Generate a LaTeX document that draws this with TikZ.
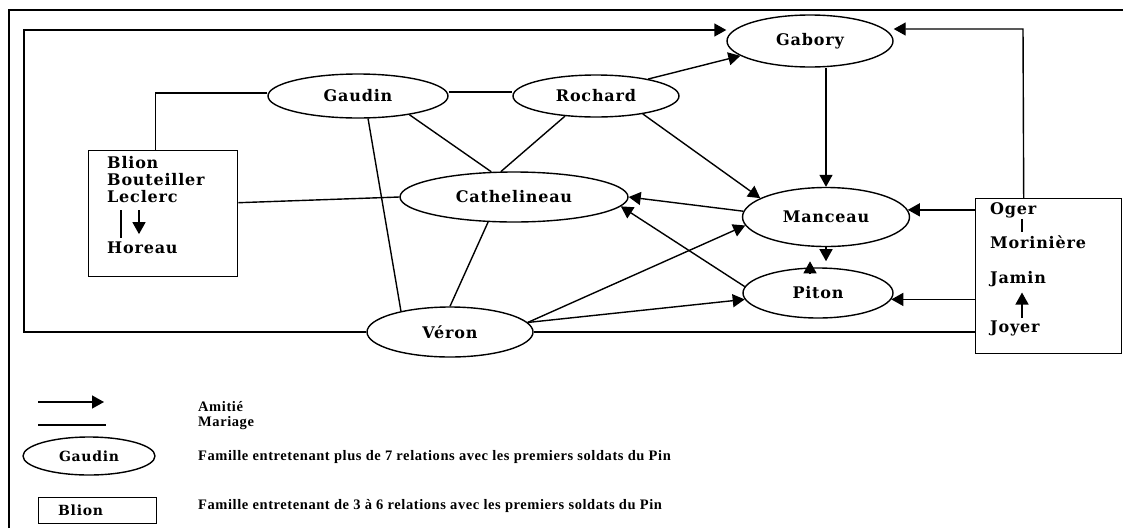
\documentclass[tikz,border=0pt]{standalone}
\usepackage{fontspec}
\setmainfont{Liberation Serif}
\newfontfamily\nodefont[LetterSpace=5]{DejaVu Serif}
\newfontfamily\legfont[LetterSpace=4]{Liberation Serif}
\usetikzlibrary{shapes.geometric,arrows.meta}
\begin{document}
\begin{tikzpicture}[x=1pt,y=-1pt,
  fam/.style={draw,ellipse,line width=1.4pt,inner sep=0pt,font=\nodefont\bfseries\fontsize{16}{16}\selectfont},
  grp/.style={draw,rectangle,line width=1.4pt,inner sep=0pt},
  amitie/.style={line width=1.4pt,-{Triangle[length=12pt,width=13pt]}},
  mariage/.style={line width=1.4pt},
  lbl/.style={font=\nodefont\bfseries\fontsize{16}{16}\selectfont,inner sep=0pt,anchor=base west},
  leg/.style={font=\legfont\bfseries\fontsize{14.5}{14.5}\selectfont,inner sep=0pt,anchor=base west}]
\useasboundingbox (0,0) rectangle (1123,528);
\fill[white] (0,0) rectangle (1123,528);
% outer frame
\draw[line width=1.4pt] (9,528) -- (9,10) -- (1123,10);
% families
\node[fam,minimum width=166,minimum height=52] (gabory) at (810,41) {Gabory};
\node[fam,minimum width=180,minimum height=44] (gaudin) at (358,96) {Gaudin};
\node[fam,minimum width=166,minimum height=42] (rochard) at (596,96) {Rochard};
\node[fam,minimum width=228,minimum height=50] (cath) at (514,197) {Cathelineau};
\node[fam,minimum width=167,minimum height=59] (manceau) at (826,217) {Manceau};
\node[fam,minimum width=150,minimum height=50] (piton) at (818,293) {Piton};
\node[fam,minimum width=166,minimum height=50] (veron) at (450,332) {Véron};
% groups
\node[grp,minimum width=149,minimum height=126,anchor=north west] (blion) at (88,150) {};
\node[lbl] (tblion) at (107,168) {Blion};
\node[lbl] (tbout) at (107,185) {Bouteiller};
\node[lbl] (tlecl) at (107,202) {Leclerc};
\node[lbl] (thor) at (107,253) {Horeau};
\coordinate (barl) at (121,0);
\coordinate (arrl) at (139,0);
\draw[mariage] ([yshift=-8pt]tlecl.south -| barl) -- ([yshift=3pt]thor.north -| barl);
\draw[amitie] ([yshift=-8pt]tlecl.south -| arrl) -- ([yshift=7pt]thor.north -| arrl);

\node[grp,minimum width=146,minimum height=155,anchor=north west] (oger) at (975,198) {};
\node[lbl] (toger) at (990,214) {Oger};
\node[lbl] (tmorin) at (990,248) {Morinière};
\node[lbl] (tjamin) at (990,283) {Jamin};
\node[lbl] (tjoyer) at (990,332) {Joyer};
\coordinate (barr) at (1022,0);
\draw[mariage] ([yshift=-1pt]toger.south -| barr) -- ([yshift=3pt]tmorin.north -| barr);
\draw[amitie] ([yshift=2pt]tjoyer.north -| barr) -- ([yshift=-6pt]tjamin.south -| barr);

% marriages
\draw[mariage] ([yshift=4pt]gaudin.east) -- ([yshift=4pt]rochard.west);
\draw[mariage] ([yshift=3pt]gaudin.west) -| ([xshift=-8pt]blion.north);
\draw[mariage] ([yshift=11pt]blion.east) -- (cath.west);
\draw[mariage] (gaudin.-66) -- (veron.157);
\draw[mariage] (gaudin.-20) -- (cath.132);
\draw[mariage] (rochard.-147) -- (cath.117);
\draw[mariage] (cath.-136) -- (veron.north);
\draw[mariage] (veron.east) -- (oger.west |- veron.east);
% friendships
\draw[amitie] (veron.west) -- (24,332) -- (24,30) -- ([yshift=11pt]gabory.west);
\draw[amitie] ([xshift=-25pt]oger.north) -- (1023,29) -- ([yshift=12pt]gabory.east);
\draw[amitie] (rochard.18) -- (gabory.192);
\draw[amitie] (rochard.-21) -- (manceau.164);
\draw[amitie] (gabory.south -| manceau.north) -- (manceau.north);
\draw[amitie] (manceau.176) -- (cath.east);
\draw[amitie] (piton.175) -- (cath.-5);
\draw[amitie] (veron.7) -- (manceau.186);
\draw[amitie] (veron.7) -- (piton.185);
\draw[amitie] (oger.west |- manceau.5) -- (manceau.5);
\draw[amitie] (oger.west |- piton.-5) -- (piton.-5);
\draw[amitie] (manceau.south) -- ++(0,14);
\draw[amitie] ([xshift=-8pt,yshift=-7pt]piton.north) -- ++(0,-13);

% legend
\coordinate (la1) at (38,402);
\coordinate (la2) at (104,402);
\draw[amitie] (la1) -- (la2);
\coordinate (lm1) at (38,425);
\coordinate (lm2) at (106,425);
\draw[mariage] (lm1) -- (lm2);
\node[leg] (tami) at (198,411) {Amitié};
\node[leg] (tmar) at (198,426) {Mariage};
\node[fam,minimum width=132,minimum height=38,font=\nodefont\bfseries\fontsize{14}{14}\selectfont] (legfam) at (89,456) {Gaudin};
\node[leg] (tlegfam) at (198,460) {Famille entretenant plus de 7 relations avec les premiers soldats du Pin};
\node[grp,minimum width=118,minimum height=26,anchor=north west] (leggrp) at (38,497) {};
\node[lbl,font=\nodefont\bfseries\fontsize{14}{14}\selectfont] (tleggrp) at (58,515) {Blion};
\node[leg] (tleggrp2) at (198,509) {Famille entretenant de 3 à 6 relations avec les premiers soldats du Pin};
\end{tikzpicture}
\end{document}
